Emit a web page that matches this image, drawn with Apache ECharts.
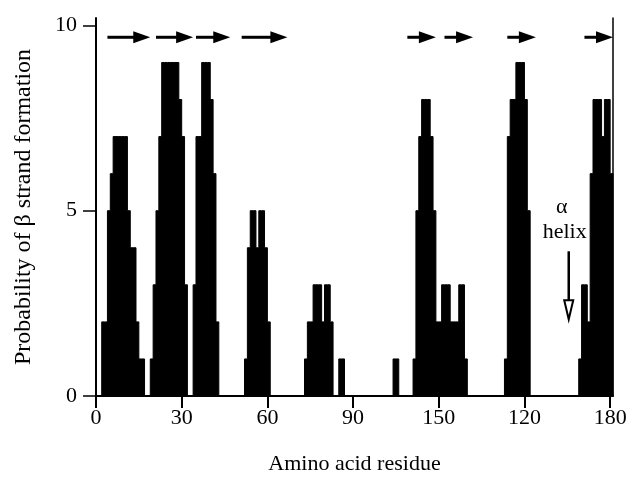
<!DOCTYPE html>
<html>
<head>
<meta charset="utf-8">
<title>beta strand probability</title>
<script src="https://cdn.jsdelivr.net/npm/echarts@6.0.0/dist/echarts.min.js"></script>
<style>
    html, body { margin: 0; padding: 0; background: #fff; }
    #chart { width: 631px; height: 480px; }
</style>
</head>
<body>
<div id="chart"></div>
<script>
    'use strict';

    // tick labels as printed on the figure (120/150 are swapped in the original)
    var xTickValues = [0, 30, 60, 90, 120, 150, 180];
    var xTickLabels = ['0', '30', '60', '90', '150', '120', '180'];
    var yTickValues = [0, 5, 10];

    var lastResidue = 180;

    // runs of non-zero probability: first residue + one value per residue
    var clusterStarts = [2, 19, 34, 52, 73, 85, 104, 111, 143, 169];
    var clusterValues = [
        [2, 2, 5, 6, 7, 7, 7, 7, 7, 5, 4, 4, 2, 1, 1],
        [1, 3, 5, 7, 9, 9, 9, 9, 9, 9, 8, 7, 3],
        [3, 7, 7, 9, 9, 9, 8, 6, 2],
        [1, 4, 5, 5, 4, 5, 5, 4, 2],
        [1, 2, 2, 3, 3, 3, 2, 3, 3, 2],
        [1, 1],
        [1, 1],
        [1, 5, 7, 8, 8, 8, 7, 5, 2, 2, 3, 3, 3, 2, 2, 2, 3, 3, 1],
        [1, 7, 8, 8, 9, 9, 9, 8, 5],
        [1, 3, 3, 2, 6, 8, 8, 8, 7, 8, 8, 6]
    ];

    // predicted beta strands (start, end residue), drawn as arrows on top
    var strandStart = [4, 21, 35, 51, 109, 122, 144, 171];
    var strandEnd = [19, 34, 47, 67, 119, 132, 154, 181];

    var helixResidue = 165.5;

    var profile = [];
    for (var r = 0; r <= lastResidue; r++) {
        profile.push([r, 0]);
    }
    clusterStarts.forEach(function (start, k) {
        clusterValues[k].forEach(function (v, j) {
            profile[start + j][1] = v;
        });
    });
    profile.push([lastResidue + 1, 0]);

    var strands = strandStart.map(function (s, i) {
        return [s, strandEnd[i]];
    });

    var serif = '"Liberation Serif", "DejaVu Serif", serif';
    var arrowLevel = 9.68;   // height of the strand arrows, in y units
    var helixTip = 2.07;

    var myChart = echarts.init(document.getElementById('chart'), null, { renderer: 'canvas' });

    var option = {
        animation: false,
        backgroundColor: '#fff',
        grid: { left: 96, right: 18, top: 18, bottom: 83 },
        xAxis: {
            type: 'value',
            min: 0,
            max: lastResidue + 1,
            name: 'Amino acid residue',
            nameLocation: 'middle',
            nameGap: 57,
            nameTextStyle: { fontFamily: serif, fontSize: 22, color: '#000' },
            axisLine: { lineStyle: { color: '#000', width: 2 } },
            axisTick: { customValues: xTickValues, length: 12, lineStyle: { color: '#000', width: 2 } },
            axisLabel: {
                customValues: xTickValues,
                margin: 11,
                fontFamily: serif,
                fontSize: 22,
                color: '#000',
                formatter: function (v) {
                    var i = xTickValues.indexOf(v);
                    return i < 0 ? '' : xTickLabels[i];
                }
            },
            splitLine: { show: false }
        },
        yAxis: [{
            type: 'value',
            min: 0,
            max: 10.2,
            name: 'Probability of \u03b2 strand formation',
            nameLocation: 'middle',
            nameGap: 60,
            nameTextStyle: { fontFamily: serif, fontSize: 24, color: '#000' },
            axisLine: { show: true, lineStyle: { color: '#000', width: 2 } },
            axisTick: { show: true, customValues: yTickValues, length: 13, lineStyle: { color: '#000', width: 1.5 } },
            axisLabel: {
                customValues: yTickValues,
                margin: 19,
                fontFamily: serif,
                fontSize: 22,
                color: '#000'
            },
            splitLine: { show: false }
        }, {
            type: 'value',
            position: 'right',
            min: 0,
            max: 10.2,
            axisLine: { show: true, lineStyle: { color: '#000', width: 1.5 } },
            axisTick: { show: false },
            axisLabel: { show: false },
            splitLine: { show: false }
        }],
        series: [{
            name: 'probability',
            type: 'line',
            step: 'end',
            data: profile,
            symbol: 'none',
            lineStyle: { color: '#000', width: 1 },
            areaStyle: { color: '#000', opacity: 1 },
            silent: true
        }, {
            name: 'strands',
            type: 'custom',
            data: strands,
            renderItem: function (params, api) {
                var a = api.coord([api.value(0), arrowLevel]);
                var b = api.coord([api.value(1), arrowLevel]);
                var head = 17;
                return {
                    type: 'group',
                    children: [{
                        type: 'line',
                        shape: { x1: a[0], y1: a[1], x2: b[0] - head + 2, y2: b[1] },
                        style: { stroke: '#000', lineWidth: 3 }
                    }, {
                        type: 'polygon',
                        shape: { points: [[b[0] - head, b[1] - 6], [b[0], b[1]], [b[0] - head, b[1] + 6]] },
                        style: { fill: '#000' }
                    }]
                };
            }
        }, {
            name: 'helix',
            type: 'custom',
            data: [[helixResidue, helixTip]],
            renderItem: function (params, api) {
                var p = api.coord([api.value(0), api.value(1)]);
                var tx = p[0], ty = p[1];
                return {
                    type: 'group',
                    children: [{
                        type: 'text',
                        style: { text: '\u03b1', x: tx - 7, y: ty - 112, align: 'center', verticalAlign: 'middle',
                            fontFamily: serif, fontSize: 22, fill: '#000' }
                    }, {
                        type: 'text',
                        style: { text: 'helix', x: tx - 4, y: ty - 87, align: 'center', verticalAlign: 'middle',
                            fontFamily: serif, fontSize: 22, fill: '#000' }
                    }, {
                        type: 'line',
                        shape: { x1: tx, y1: ty - 68, x2: tx, y2: ty - 19 },
                        style: { stroke: '#000', lineWidth: 2.5 }
                    }, {
                        type: 'polygon',
                        shape: { points: [[tx - 4.5, ty - 19], [tx + 4.5, ty - 19], [tx, ty]] },
                        style: { fill: '#fff', stroke: '#000', lineWidth: 2 }
                    }]
                };
            }
        }]
    };

    myChart.setOption(option);
</script>
</body>
</html>
